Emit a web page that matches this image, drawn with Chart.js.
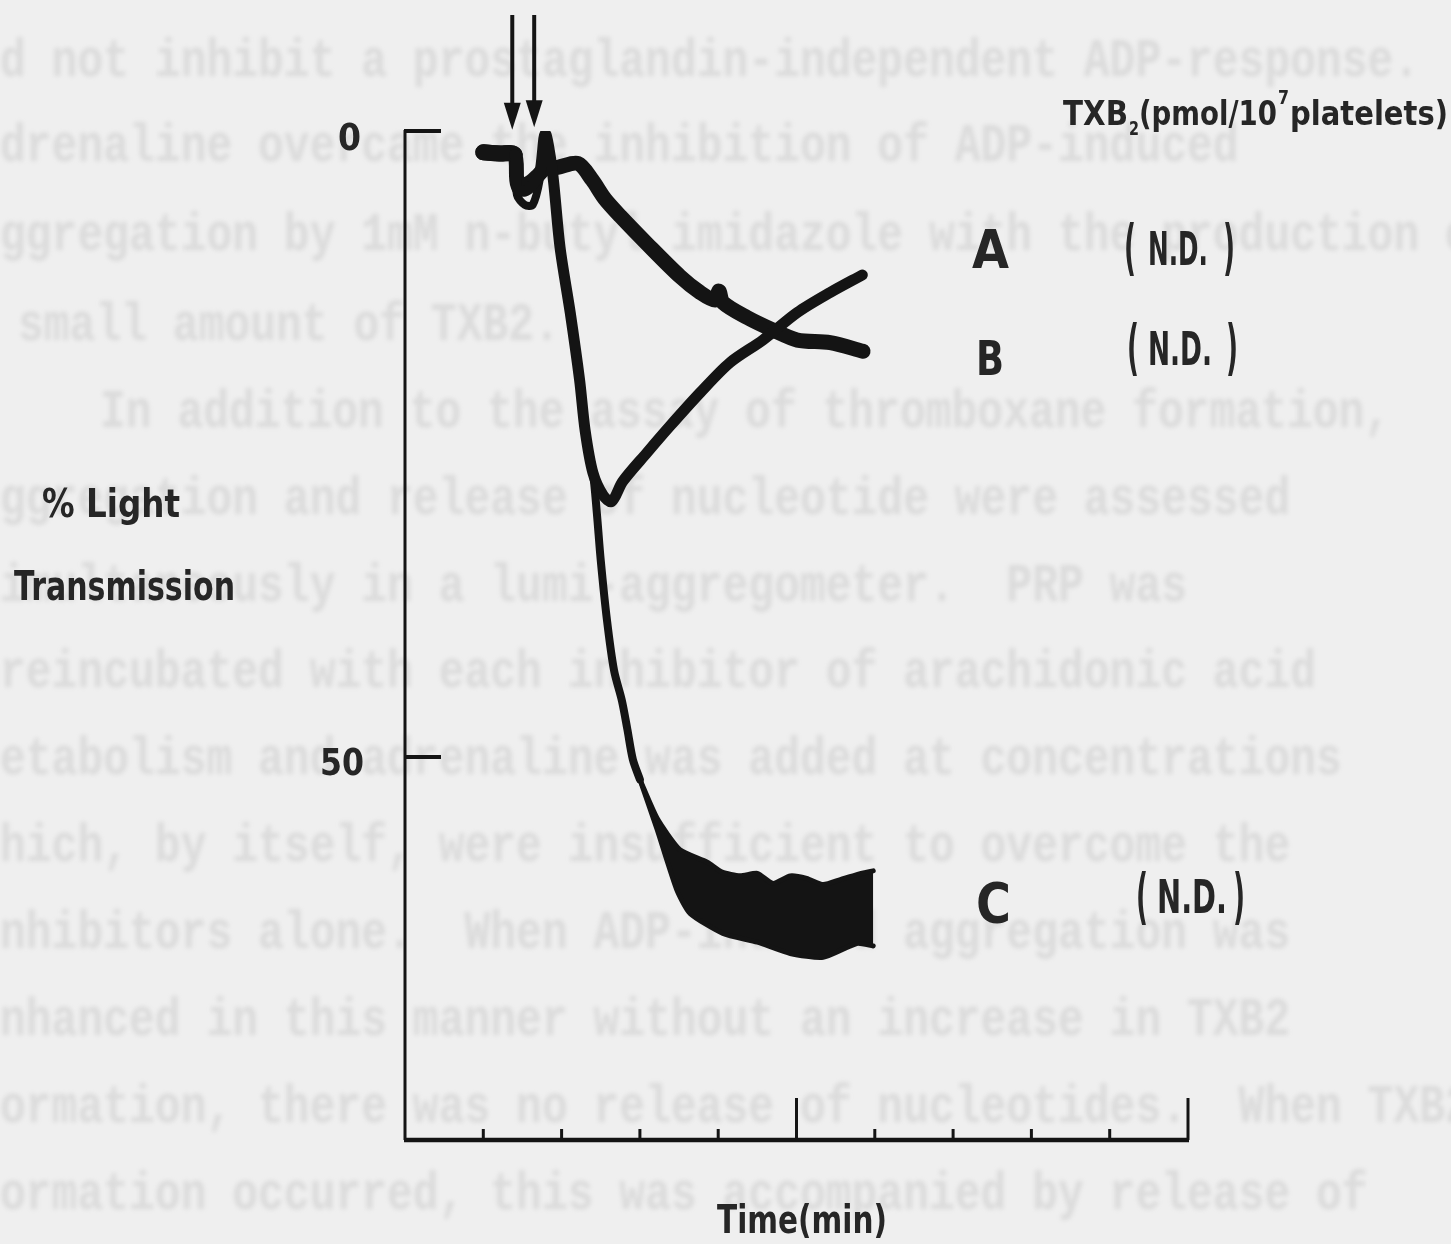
<!DOCTYPE html>
<html>
<head>
<meta charset="utf-8">
<title>% Light Transmission</title>
<script src="https://cdn.jsdelivr.net/npm/chart.js@4.4.0/dist/chart.umd.min.js"></script>
<style>
  html, body { margin: 0; padding: 0; background: #efefef; }
  canvas { display: block; }
</style>
</head>
<body>
<canvas id="chart" width="1451" height="1244"></canvas>
<script>
// time in minutes, transmission in % (0 at the top)
const traceA_time = [1.00, 1.21, 1.40, 1.43, 1.53, 1.63, 1.72, 1.79, 1.88, 1.98, 2.11, 2.23, 2.30, 2.40, 2.53, 2.64, 2.78, 3.09, 3.38, 3.77, 4.15, 4.57, 5.01, 5.43, 5.84];
const traceA_pct  = [1.7, 1.8, 1.9, 4.6, 4.8, 4.3, 3.4, 0.2, 3.1, 9.3, 14.5, 19.9, 23.9, 27.3, 29.1, 29.6, 28.0, 25.7, 23.6, 20.9, 18.5, 16.7, 14.5, 12.9, 11.5];

const traceB_time = [1.00, 1.21, 1.40, 1.44, 1.57, 1.69, 1.79, 1.95, 2.21, 2.39, 2.55, 2.75, 3.09, 3.51, 3.77, 3.96, 4.01, 4.06, 4.37, 4.70, 5.01, 5.43, 5.85];
const traceB_pct  = [1.7, 1.8, 1.9, 4.3, 4.2, 3.6, 3.0, 2.9, 2.6, 3.9, 5.4, 6.8, 9.0, 11.6, 12.9, 13.5, 12.8, 13.7, 14.9, 15.9, 16.7, 16.9, 17.6];

// C: the fall, then the noisy plateau as an upper / lower envelope
const traceC_time = [1.00, 1.21, 1.40, 1.43, 1.53, 1.63, 1.72, 1.79, 1.88, 1.98, 2.11, 2.23, 2.30, 2.40, 2.45, 2.50, 2.58, 2.67, 2.77, 2.84, 2.91, 3.00];
const traceC_pct  = [1.7, 1.8, 1.9, 5.1, 5.9, 5.9, 3.9, 0.2, 3.1, 9.3, 14.5, 19.9, 23.9, 27.3, 30.5, 34.3, 39.1, 43.1, 45.5, 47.8, 50.2, 51.8];
const traceC_hiTime = [3.00, 3.22, 3.51, 3.86, 4.05, 4.28, 4.50, 4.70, 4.92, 5.13, 5.34, 5.56, 5.77, 5.98];
const traceC_hiPct  = [51.8, 54.9, 57.4, 58.4, 59.2, 59.5, 59.3, 60.1, 59.5, 59.7, 60.2, 59.8, 59.4, 59.1];
const traceC_loTime = [3.00, 3.22, 3.47, 3.64, 4.06, 4.50, 4.92, 5.34, 5.77, 5.98];
const traceC_loPct  = [51.8, 55.8, 60.6, 62.5, 64.1, 64.8, 65.7, 66.0, 64.9, 65.1];

const traceLabels = ['A', 'B', 'C'];
const txbValues = ['(N.D.)', '(N.D.)', '(N.D.)'];

const yTickValues = [0, 50];
const yTickLabels = ['0', '50'];
const xTickValues = [1, 2, 3, 4, 5, 6, 7, 8, 9, 10];
const xMajorTicks = [5, 10];

// agonist additions (arrows)
const arrowTimes = [1.37, 1.65];
const arrowTipPct = [-0.1, -0.3];
const baselineEnd = 1.40;

// the other side of the page showing through
const backPage = [
  [0, 62, 'd not inhibit a prostaglandin-independent ADP-response.'],
  [0, 147, 'drenaline overcame the inhibition of ADP-induced'],
  [0, 236, 'ggregation by 1mM n-butyl imidazole with the production of'],
  [18, 326, 'small amount of TXB2.'],
  [100, 413, 'In addition to the assay of thromboxane formation,'],
  [0, 500, 'ggregation and release of nucleotide were assessed'],
  [0, 587, 'imultaneously in a lumi-aggregometer.  PRP was'],
  [0, 673, 'reincubated with each inhibitor of arachidonic acid'],
  [0, 760, 'etabolism and adrenaline was added at concentrations'],
  [0, 847, 'hich, by itself, were insufficient to overcome the'],
  [0, 934, 'nhibitors alone.  When ADP-induced aggregation was'],
  [0, 1021, 'nhanced in this manner without an increase in TXB2'],
  [0, 1108, 'ormation, there was no release of nucleotides.  When TXB2'],
  [0, 1195, 'ormation occurred, this was accompanied by release of']
];

const ink = '#141414';
const FONT = '"DejaVu Sans", sans-serif';

function pts(xs, ys) {
  return xs.map((x, i) => ({ x: x, y: ys[i] }));
}

// draw text squeezed/stretched to sit between left and right
function fitText(ctx, text, left, right, baseline, size) {
  ctx.save();
  ctx.font = 'bold ' + size + 'px ' + FONT;
  const w = ctx.measureText(text).width;
  ctx.translate(left, baseline);
  ctx.scale((right - left) / w, 1);
  ctx.textAlign = 'left';
  ctx.textBaseline = 'alphabetic';
  ctx.fillStyle = '#262626';
  ctx.fillText(text, 0, 0);
  ctx.restore();
}

const pagePlugin = {
  id: 'page',
  beforeDraw(chart) {
    const ctx = chart.ctx;
    ctx.save();
    ctx.fillStyle = '#efefef';
    ctx.fillRect(0, 0, chart.width, chart.height);
    ctx.filter = 'blur(2px)';
    ctx.fillStyle = 'rgba(150, 150, 150, 0.22)';
    ctx.font = 'bold 43px "Liberation Mono", monospace';
    ctx.textBaseline = 'middle';
    backPage.forEach(([x, y, line]) => {
      ctx.save();
      ctx.translate(x, y);
      ctx.scale(1, 1.25);
      ctx.fillText(line, 0, 0);
      ctx.restore();
    });
    ctx.restore();
  },
  afterDraw(chart) {
    const ctx = chart.ctx;
    const xs = chart.scales.x, ys = chart.scales.y;
    const area = chart.chartArea;
    ctx.save();
    ctx.strokeStyle = ink;
    ctx.fillStyle = ink;
    ctx.lineCap = 'butt';

    // y axis with inward ticks
    ctx.lineWidth = 3;
    ctx.beginPath();
    ctx.moveTo(area.left, ys.getPixelForValue(0) - 1);
    ctx.lineTo(area.left, area.bottom);
    ctx.stroke();
    yTickValues.forEach(v => {
      const y = ys.getPixelForValue(v);
      ctx.lineWidth = 4;
      ctx.beginPath();
      ctx.moveTo(area.left - 1, y);
      ctx.lineTo(area.left + 36, y);
      ctx.stroke();
    });

    // x axis with upward ticks
    ctx.lineWidth = 4.5;
    ctx.beginPath();
    ctx.moveTo(area.left - 1, area.bottom);
    ctx.lineTo(xs.getPixelForValue(10) + 1, area.bottom);
    ctx.stroke();
    ctx.lineWidth = 3;
    xTickValues.forEach(v => {
      const x = xs.getPixelForValue(v);
      const len = xMajorTicks.includes(v) ? 42 : 11;
      ctx.beginPath();
      ctx.moveTo(x, area.bottom);
      ctx.lineTo(x, area.bottom - len);
      ctx.stroke();
    });

    // arrows
    arrowTimes.forEach((t, i) => {
      const x = xs.getPixelForValue(t);
      const tip = ys.getPixelForValue(arrowTipPct[i]);
      ctx.lineWidth = 4;
      ctx.beginPath();
      ctx.moveTo(x, 15);
      ctx.lineTo(x, tip - 20);
      ctx.stroke();
      ctx.beginPath();
      ctx.moveTo(x - 8.5, tip - 27);
      ctx.lineTo(x + 8.5, tip - 27);
      ctx.lineTo(x, tip);
      ctx.closePath();
      ctx.fill();
    });
    ctx.restore();

    // tick labels
    fitText(ctx, yTickLabels[0], 338, 361, 150, 38);
    fitText(ctx, yTickLabels[1], 320, 364, 775, 38);

    // axis titles
    fitText(ctx, '% Light', 42, 180, 517, 39);
    fitText(ctx, 'Transmission', 14, 235, 600, 40);
    fitText(ctx, 'Time(min)', 717, 887, 1233, 39);

    // header of the right-hand column
    fitText(ctx, 'TXB', 1063, 1128, 125, 33);
    fitText(ctx, '2', 1129, 1139, 135, 20);
    fitText(ctx, '(pmol/10', 1139, 1277, 125, 33);
    fitText(ctx, '7', 1278, 1289, 104, 20);
    fitText(ctx, 'platelets)', 1290, 1448, 125, 33);

    // trace letters and their TXB2 values
    const letterBoxes = [[972, 1009, 268, 54], [976, 1004, 375, 48], [976, 1011, 922, 56]];
    const ndBoxes = [
      [1124, 1148, 1208, 1235, 265, 268],
      [1127, 1148, 1212, 1238, 365, 368],
      [1136, 1157, 1227, 1245, 913, 917]
    ];
    traceLabels.forEach((lab, i) => {
      const b = letterBoxes[i];
      fitText(ctx, lab, b[0], b[1], b[2], b[3]);
      const n = ndBoxes[i];
      const inner = txbValues[i].slice(1, -1);
      fitText(ctx, '(', n[0], n[0] + 12, n[5], 60);
      fitText(ctx, inner, n[1], n[2], n[4], 46);
      fitText(ctx, ')', n[3] - 12, n[3], n[5], 60);
    });
  }
};

const lineStyle = {
  borderColor: ink,
  backgroundColor: ink,
  pointRadius: 0,
  borderCapStyle: 'round',
  borderJoinStyle: 'round',
  fill: false
};

// the pre-addition baseline is drawn heavier
const thickBaseline = (w) => ({
  borderWidth: ctx => (ctx.p1.parsed.x <= baselineEnd ? 16 : w)
});

new Chart(document.getElementById('chart'), {
  type: 'line',
  data: {
    datasets: [
      Object.assign({}, lineStyle, { label: 'A', data: pts(traceA_time, traceA_pct), borderWidth: 11, tension: 0.3, segment: thickBaseline(11) }),
      Object.assign({}, lineStyle, { label: 'B', data: pts(traceB_time, traceB_pct), borderWidth: 15, tension: 0.3, segment: thickBaseline(15) }),
      Object.assign({}, lineStyle, { label: 'C', data: pts(traceC_time, traceC_pct), borderWidth: 8, tension: 0.3 }),
      Object.assign({}, lineStyle, { label: 'C upper', data: pts(traceC_hiTime, traceC_hiPct), borderWidth: 5, tension: 0.2 }),
      Object.assign({}, lineStyle, { label: 'C lower', data: pts(traceC_loTime, traceC_loPct), borderWidth: 5, tension: 0.2, fill: '-1' })
    ]
  },
  options: {
    responsive: false,
    animation: false,
    events: [],
    layout: { padding: { left: 405, right: 263, top: 131, bottom: 104 } },
    plugins: { legend: { display: false }, tooltip: { enabled: false } },
    scales: {
      x: { type: 'linear', min: 0, max: 10, display: false },
      y: { type: 'linear', min: 0, max: 80.6, reverse: true, display: false }
    }
  },
  plugins: [pagePlugin]
});
</script>
</body>
</html>
